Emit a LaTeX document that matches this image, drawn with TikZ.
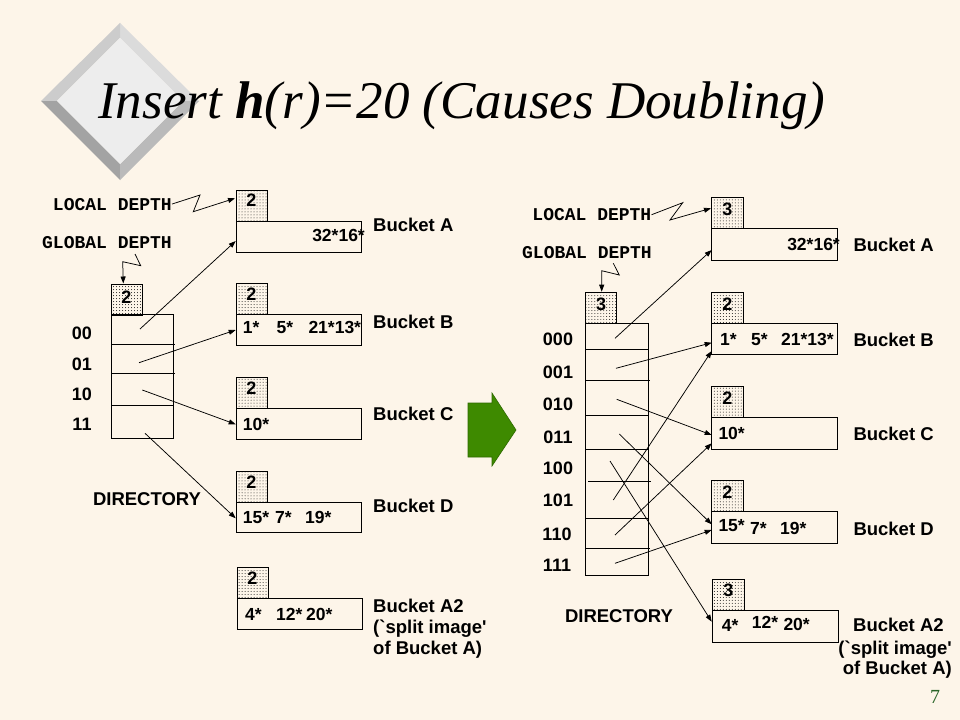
\documentclass[tikz,border=0pt]{standalone}
\usepackage{fontspec}
\setmainfont{Liberation Serif}
\newfontfamily\arialf{Liberation Sans}
\newfontfamily\courf{Liberation Mono}
\usetikzlibrary{arrows.meta,patterns,calc}
\definecolor{bgc}{RGB}{253,245,233}
\definecolor{grn}{RGB}{62,138,0}
\definecolor{grnd}{RGB}{46,105,0}
\definecolor{pgn}{RGB}{40,100,40}
\begin{document}
\begin{tikzpicture}[x=1bp,y=-1bp,
  box/.style={draw, line width=0.9bp, anchor=north west, inner sep=0, outer sep=0, minimum width=125bp, minimum height=30.5bp},
  dirbox/.style={draw, line width=0.9bp, anchor=north west, inner sep=0, outer sep=0, minimum width=62.5bp},
  dbox/.style={draw, line width=0.9bp, anchor=north west, inner sep=0, outer sep=0, minimum width=31bp, minimum height=31bp, pattern=dots, pattern color=black!90},
  sf/.style={font=\arialf\bfseries\fontsize{17.5bp}{20bp}\selectfont, inner sep=0},
  dig/.style={font=\arialf\bfseries\fontsize{18bp}{20bp}\selectfont, inner sep=0, anchor=base},
  ent/.style={sf, anchor=base west},
  lab/.style={font=\arialf\bfseries\fontsize{18.5bp}{21bp}\selectfont, inner sep=0, anchor=base west},
  labr/.style={lab, anchor=base east},
  dirlab/.style={lab, anchor=base},
  cour/.style={font=\courf\bfseries\fontsize{18bp}{20bp}\selectfont, inner sep=0, anchor=base east},
  arr/.style={line width=0.75bp, -{Triangle[length=7bp,width=5bp]}},
  zig/.style={line width=0.75bp, -{Triangle[length=7bp,width=5bp]}, line join=miter}
]
\useasboundingbox (0,0) rectangle (960,720);
\fill[bgc] (0,0) rectangle (960,720);

% ---------- decorative diamond ----------
\fill[black!14] (120,23) -- (199,101) -- (183,101) -- (120,38) -- cycle;
\fill[black!36] (41,101) -- (57,101) -- (120,164) -- (120,180) -- cycle;
\fill[black!27] (199,101) -- (183,101) -- (120,164) -- (120,180) -- cycle;
\fill[black!20] (41,101) -- (57,101) -- (120,38) -- (120,23) -- cycle;
\fill[black!7] (120,38) -- (183,101) -- (120,164) -- (57,101) -- cycle;

% ---------- title ----------
\node[anchor=base west, inner sep=0] (title) at (98,118.3)
  {\resizebox{727bp}{\height}{\fontsize{53bp}{60bp}\selectfont\itshape Insert \textbf{h}(r)=20 (Causes Doubling)}};

% ---------- green arrow ----------
\fill[grn, draw=grnd, line width=0.6bp] (468,403) -- (492,403) -- (492,393) -- (516,430) -- (492,466) -- (492,457) -- (468,457) -- cycle;

% ================= LEFT =================
\node[cour] (Lloc) at (172,210) {LOCAL DEPTH};
\node[cour] (Lglob) at (172,248.3) {GLOBAL DEPTH};

\node[dbox] (LgD) at (111,284) {};
\node[dig] at ($(LgD.north)+(0,19)$) {2};
\node[dirbox, minimum height=124bp] (Ldir) at (111,314) {};
\draw[line width=0.9bp] (112,344.3) -- (175,344.3);
\draw[line width=0.9bp] (111,373.3) -- (175,373.3);
\draw[line width=0.9bp] (111,405.7) -- (173.5,405.7);
\node[dig] at (82,339.3) {00};
\node[dig] at (82,370) {01};
\node[dig] at (82,400) {10};
\node[dig] at (82,430) {11};
\node[dirlab] at (147,505.7) {DIRECTORY};

% buckets
\node[dbox] (LdA) at (236,190.5) {};
\node[dig] at ($(LdA.north)+(0,16)$) {2};
\node[box] (LbA) at (236,221.5) {};
\node[sf, anchor=base east] at (365,241.7) {32*16*};
\node[lab] at (373,231.7) {Bucket A};

\node[dbox] (LdB) at (236,283.5) {};
\node[dig] at ($(LdB.north)+(0,17)$) {2};
\node[box] (LbB) at (236,314.5) {};
\node[ent] at (242.7,333.5) {1*};
\node[ent] at (276.5,333.5) {5*};
\node[ent] at (308.3,333.5) {21*13*};
\node[lab] at (373,328.3) {Bucket B};

\node[dbox] (LdC) at (236,377.5) {};
\node[dig] at ($(LdC.north)+(0,17)$) {2};
\node[box] (LbC) at (236,408.5) {};
\node[ent] at (242.7,430) {10*};
\node[lab] at (373,420.7) {Bucket C};

\node[dbox] (LdD) at (236,471) {};
\node[dig] at ($(LdD.north)+(0,17)$) {2};
\node[box] (LbD) at (236,502) {};
\node[ent] at (242.7,523.3) {15*};
\node[ent] at (275,523.3) {7*};
\node[ent] at (305,523.3) {19*};
\node[lab] at (373,512.7) {Bucket D};

\node[dbox] (LdA2) at (237,567.5) {};
\node[dig] at ($(LdA2.north)+(0,17)$) {2};
\node[box] (LbA2) at (237,598.5) {};
\node[ent] at (245,620) {4*};
\node[ent] at (276,620) {12*};
\node[ent] at (306,620) {20*};
\node[lab] at (373,612.3) {Bucket A2};
\node[lab] at (373,633.3) {(\textasciigrave split image\textquotesingle};
\node[lab] at (373,654.3) {of Bucket A)};

% pointers
\coordinate (L00) at (140,329);
\coordinate (L01) at (139,362.7);
\coordinate (L10) at (142.3,390);
\coordinate (L11) at (145,433.3);
\coordinate (LtA) at (235.7,241);
\coordinate (LtB) at (235.7,330);
\coordinate (LtC) at (235.7,424.3);
\coordinate (LtD) at (235.7,518.3);
\draw[arr] (L00) -- (LtA);
\draw[arr] (L01) -- (LtB);
\draw[arr] (L10) -- (LtC);
\draw[arr] (L11) -- (LtD);

% depth pointers
\coordinate (Lz1) at (200,195);
\coordinate (Lz2) at (193.3,211.7);
\coordinate (LtLoc) at (235,198.3);
\draw[zig] (Lloc.east) -- (Lz1) -- (Lz2) -- (LtLoc);
\coordinate (Lg0) at (135,254);
\coordinate (Lg1) at (140.7,265.7);
\coordinate (Lg2) at (122.7,261.7);
\coordinate (LtG) at (123.3,283.5);
\draw[zig] (Lg0) -- (Lg1) -- (Lg2) -- (LtG);

% ================= RIGHT =================
\node[cour] (Rloc) at (651.5,220.7) {LOCAL DEPTH};
\node[cour] (Rglob) at (652,258.3) {GLOBAL DEPTH};

\node[dbox] (RgD) at (585.5,292) {};
\node[dig] at ($(RgD.north)+(0,18.5)$) {3};
\node[dirbox, minimum height=251.7bp] (Rdir) at (585.5,323.3) {};
\draw[line width=0.9bp] (585.5,349.3) -- (648.5,349.3);
\draw[line width=0.9bp] (585.5,380) -- (649.5,380);
\draw[line width=0.9bp] (585.5,415.3) -- (648.5,415.3);
\draw[line width=0.9bp] (585.5,449.3) -- (648.5,449.3);
\draw[line width=0.9bp] (588,481.3) -- (650.5,481.3);
\draw[line width=0.9bp] (585.5,518.3) -- (648.5,518.3);
\draw[line width=0.9bp] (585.5,548.3) -- (649.5,548.3);
\node[dig] at (558,345) {000};
\node[dig] at (558,378.5) {001};
\node[dig] at (558,410.7) {010};
\node[dig] at (558,443.3) {011};
\node[dig] at (558,474.3) {100};
\node[dig] at (558,506) {101};
\node[dig] at (557,540) {110};
\node[dig] at (557,571.7) {111};
\node[dirlab] at (619,622.7) {DIRECTORY};

\node[dbox, minimum width=31.5bp] (RdA) at (711.7,197.3) {};
\node[dig] at ($(RdA.north)+(0,17.7)$) {3};
\node[box, minimum width=125.6bp, minimum height=31.7bp] (RbA) at (711.7,228.3) {};
\node[sf, anchor=base east] at (840,250) {32*16*};
\node[lab] at (853.3,251.7) {Bucket A};

\node[dbox, minimum width=31.5bp] (RdB) at (711.7,292) {};
\node[dig] at ($(RdB.north)+(0,18.3)$) {2};
\node[box, minimum width=125.6bp, minimum height=30.7bp] (RbB) at (711.7,323.3) {};
\node[ent] at (720,345) {1*};
\node[ent] at (751,345) {5*};
\node[ent] at (781,345) {21*13*};
\node[lab] at (853.3,346.7) {Bucket B};

\node[dbox, minimum width=31.5bp] (RdC) at (711.7,386.7) {};
\node[dig] at ($(RdC.north)+(0,17.5)$) {2};
\node[box, minimum width=125.6bp, minimum height=31.3bp] (RbC) at (711.7,417.7) {};
\node[ent] at (718.3,439) {10*};
\node[lab] at (853.3,440) {Bucket C};

\node[dbox, minimum width=31.5bp] (RdD) at (711.7,480.7) {};
\node[dig] at ($(RdD.north)+(0,17.5)$) {2};
\node[box, minimum width=125.6bp, minimum height=31.6bp] (RbD) at (711.7,511.7) {};
\node[ent] at (718.3,531.7) {15*};
\node[ent] at (750,534) {7*};
\node[ent] at (780,534) {19*};
\node[lab] at (853.3,535.7) {Bucket D};

\node[dbox, minimum width=32bp, minimum height=30.7bp] (RdA2) at (712.3,579.3) {};
\node[dig] at ($(RdA2.north)+(0,17.5)$) {3};
\node[box, minimum width=126bp, minimum height=32bp] (RbA2) at (712.3,610) {};
\node[ent] at (721.7,631.7) {4*};
\node[ent] at (751.7,628.3) {12*};
\node[ent] at (783.3,630.7) {20*};
\node[lab] at (853,631) {Bucket A2};
\node[labr] at (952,654.3) {(\textasciigrave split image\textquotesingle};
\node[labr] at (952,674.3) {of Bucket A)};

% pointers
\coordinate (R000) at (615,338.3);
\coordinate (R001) at (616,368.3);
\coordinate (R010) at (616.7,399.3);
\coordinate (R011) at (619.3,434);
\coordinate (R100) at (610,461);
\coordinate (R101) at (613.3,500);
\coordinate (R110) at (615,535);
\coordinate (R111) at (615,563.3);
\coordinate (RtA) at (711.7,250);
\coordinate (RtB1) at (711.7,342.7);
\coordinate (RtB2) at (711.7,351);
\coordinate (RtC1) at (711.7,435);
\coordinate (RtC2) at (711.7,443.3);
\coordinate (RtD1) at (711.7,524.3);
\coordinate (RtD2) at (711.7,530);
\coordinate (RtA2) at (711.7,621.7);
\draw[arr] (R000) -- (RtA);
\draw[arr] (R001) -- (RtB1);
\draw[arr] (R010) -- (RtC1);
\draw[arr] (R011) -- (RtD1);
\draw[arr] (R100) -- (RtA2);
\draw[arr] (R101) -- (RtB2);
\draw[arr] (R110) -- (RtC2);
\draw[arr] (R111) -- (RtD2);

\coordinate (Rz1) at (682.7,202.7);
\coordinate (Rz2) at (670,220);
\coordinate (RtLoc) at (711,208.3);
\draw[zig] (Rloc.east) -- (Rz1) -- (Rz2) -- (RtLoc);
\coordinate (Rg0) at (613.3,263.3);
\coordinate (Rg1) at (619.3,275);
\coordinate (Rg2) at (601.7,270.7);
\coordinate (RtG) at (601.7,291.7);
\draw[zig] (Rg0) -- (Rg1) -- (Rg2) -- (RtG);

% page number
\node[anchor=base, inner sep=0, text=pgn, font=\fontsize{20bp}{22bp}\selectfont] (pnum) at (935,703.3) {7};
\end{tikzpicture}
\end{document}
